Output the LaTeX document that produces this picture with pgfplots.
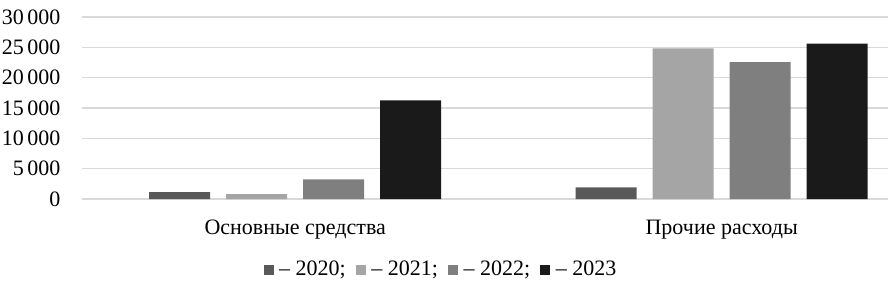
\documentclass[border=0pt]{standalone}
\usepackage{pgfplots}
\pgfplotsset{compat=1.18}
\usepackage{fontspec}
\setmainfont{Liberation Serif}
\definecolor{c20}{HTML}{595959}
\definecolor{c21}{HTML}{A5A5A5}
\definecolor{c22}{HTML}{7F7F7F}
\definecolor{c23}{HTML}{1A1A1A}
\definecolor{gridc}{HTML}{D9D9D9}
\begin{document}
\fontsize{22bp}{26bp}\selectfont
\begin{tikzpicture}
\useasboundingbox (-82bp,-87bp) rectangle (806bp,199bp);
\begin{axis}[
  scale only axis,
  width=806bp, height=182bp,
  ybar=16bp, bar width=61bp,
  xmin=-0.5, xmax=1.39,
  ymin=0, ymax=30000,
  ytick={0,5000,10000,15000,20000,25000,30000},
  xtick={0,1},
  xticklabels={Основные средства, Прочие расходы},
  axis line style={draw=none},
  major tick length=0pt,
  xmajorgrids=false,
  ymajorgrids=true,
  major grid style={draw=gridc, line width=1.2pt},
  /pgf/number format/assume math mode=true,
  /pgf/number format/1000 sep={\,},
  scaled y ticks=false,
  tick label style={font=\fontsize{22bp}{26bp}\selectfont},
  yticklabel style={anchor=east, xshift=-14bp},
  xticklabel style={anchor=center, yshift=-31bp},
  legend columns=4,
  legend style={at={(0.4454,-0.39)}, anchor=center, draw=none, fill=none,
    font=\fontsize{22bp}{26bp}\selectfont,
    /tikz/every even column/.append style={column sep=8bp}},
  legend image code/.code={\fill[#1, draw=none] (0bp,-5bp) rectangle (10bp,5bp);},
]
\addplot[fill=c20, draw=none] coordinates {(0,1150) (1,1930)};
\addplot[fill=c21, draw=none] coordinates {(0,800) (1,24840)};
\addplot[fill=c22, draw=none] coordinates {(0,3250) (1,22580)};
\addplot[fill=c23, draw=none] coordinates {(0,16270) (1,25600)};
\legend{\,--\ 2020;, \,--\ 2021;, \,--\ 2022;, \,--\ 2023}
\end{axis}
\end{tikzpicture}
\end{document}
